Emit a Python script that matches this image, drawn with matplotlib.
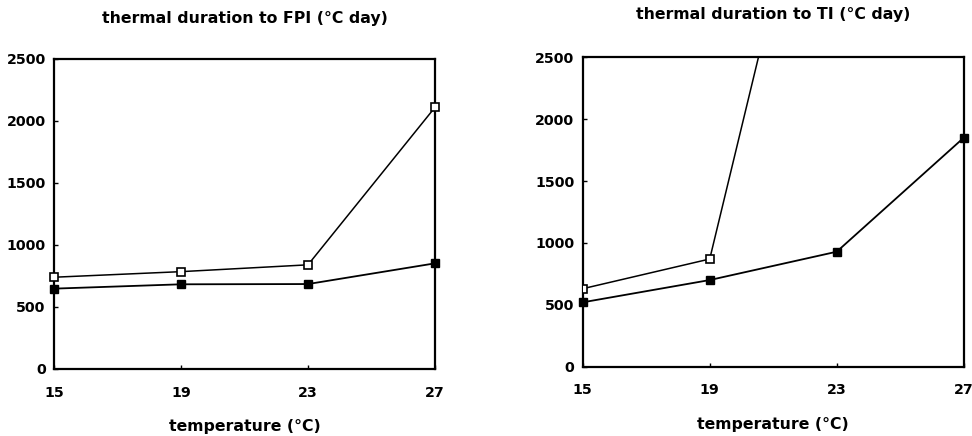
import numpy as np
import matplotlib
matplotlib.use("Agg")
import matplotlib.pyplot as plt

temps = [15, 19, 23, 27]

# left panel: thermal duration to FPI
fpi_open = [740, 785, 840, 2110]
fpi_filled = [648, 683, 685, 852]

# right panel: thermal duration to TI (open series at 23 runs off the top)
ti_open = [630, 870, 5120]
ti_filled = [520, 700, 929, 1850]

yticks = [0, 500, 1000, 1500, 2000, 2500]

plt.rcParams['font.family'] = ['DejaVu Sans']

fig = plt.figure(figsize=(9.72, 4.36), dpi=100)
ax1 = fig.add_axes([0.0556, 0.1537, 0.3919, 0.7110])
ax2 = fig.add_axes([0.5995, 0.1590, 0.3920, 0.7096])


def style(ax, title, title_y):
    ax.set_xlim(15, 27)
    ax.set_ylim(0, 2500)
    ax.set_xticks(temps)
    ax.set_yticks(yticks)
    ax.tick_params(direction='in', length=3, width=1, labelsize=10.2)
    ax.tick_params(axis='x', pad=12)
    ax.tick_params(axis='y', pad=6)
    for lab in ax.get_xticklabels() + ax.get_yticklabels():
        lab.set_fontweight('bold')
    for s in ax.spines.values():
        s.set_linewidth(1.6)
    ax.set_xlabel('temperature (°C)', fontsize=11.3, fontweight='bold',
                  labelpad=14)
    pos = ax.get_position()
    fig.text((pos.x0 + pos.x1) / 2, title_y, title, ha='center', va='center',
             fontsize=11.3, fontweight='bold')


ax1.plot(temps, fpi_open, color='black', lw=1.1, marker='s', ms=5.5,
         mfc='white', mec='black', mew=1.2, clip_on=False, zorder=3)
ax1.plot(temps, fpi_filled, color='black', lw=1.3, marker='s', ms=5.5,
         mfc='black', mec='black', clip_on=False, zorder=3)
style(ax1, 'thermal duration to FPI (°C day)', 1 - 18 / 436)

ax2.plot(temps[:3], ti_open, color='black', lw=1.1, marker='s', ms=5.5,
         mfc='white', mec='black', mew=1.2, zorder=3)
ax2.plot(temps, ti_filled, color='black', lw=1.3, marker='s', ms=5.5,
         mfc='black', mec='black', clip_on=False, zorder=3)
style(ax2, 'thermal duration to TI (°C day)', 1 - 14 / 436)

fig.savefig('out.png', dpi=100, facecolor='white')
